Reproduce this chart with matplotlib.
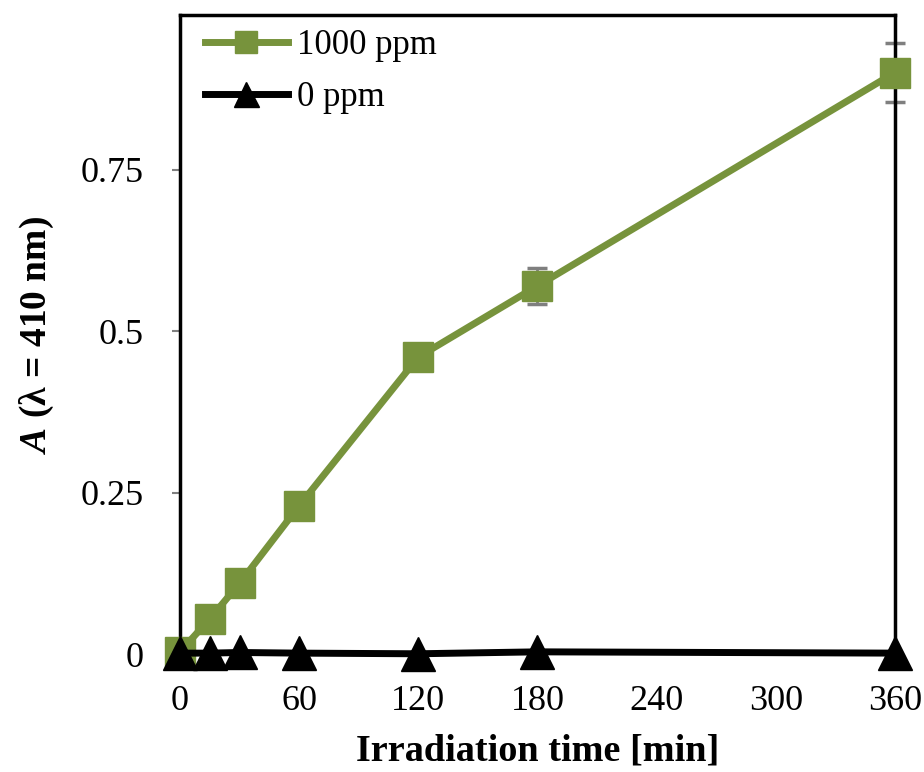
import matplotlib.pyplot as plt

# irradiation times (min) and absorbance at 410 nm
time_min = [0, 15, 30, 60, 120, 180, 360]
abs_1000ppm = [0.004, 0.055, 0.11, 0.23, 0.46, 0.57, 0.90]
err_1000ppm = [0.0, 0.005, 0.008, 0.01, 0.02, 0.028, 0.045]
abs_0ppm = [0.002, 0.002, 0.003, 0.002, 0.001, 0.004, 0.002]

x_ticks = [0, 60, 120, 180, 240, 300, 360]
y_ticks = [0, 0.25, 0.5, 0.75]
y_tick_labels = ['0', '0.25', '0.5', '0.75']

green = '#77933C'
serif = ['Liberation Serif', 'DejaVu Serif']

plt.rcParams['font.family'] = serif
plt.rcParams['mathtext.fontset'] = 'custom'
plt.rcParams['mathtext.it'] = 'Liberation Serif:italic:bold'
plt.rcParams['mathtext.rm'] = 'Liberation Serif:bold'

fig = plt.figure(figsize=(9.24, 7.72), dpi=100)
ax = fig.add_axes([0.1948, 0.1523, 0.7738, 0.8283])

# error bars go under the square markers
ax.errorbar(time_min, abs_1000ppm, yerr=err_1000ppm, fmt='none',
            ecolor='#7f7f7f', elinewidth=2, capsize=7, capthick=2.5,
            zorder=2, clip_on=False)
ax.plot(time_min, abs_1000ppm, color=green, lw=5, marker='s', ms=21,
        mfc=green, mec=green, label='1000 ppm', zorder=3, clip_on=False)
ax.plot(time_min, abs_0ppm, color='black', lw=5, marker='^', ms=24,
        label='0 ppm', zorder=4, clip_on=False)

ax.set_xlim(0, 360)
ax.set_ylim(0, 0.989)
ax.set_xticks(x_ticks)
ax.set_yticks(y_ticks)
ax.set_yticklabels(y_tick_labels)

for s in ['left', 'top', 'right']:
    ax.spines[s].set_linewidth(2.5)
ax.spines['bottom'].set_visible(False)

ax.tick_params(axis='y', direction='out', length=6, width=1.5,
               color='#7f7f7f', pad=20, labelsize=26)
ax.tick_params(axis='x', length=0, pad=22, labelsize=26)

ax.set_xlabel('Irradiation time [min]', fontsize=27.5,
              fontweight='bold', labelpad=11)
ax.set_ylabel(r'$\mathit{A}$ (λ = 410 nm)', fontsize=27,
              fontweight='bold', labelpad=18)

leg = ax.legend(loc='upper left', bbox_to_anchor=(0.015, 1.0),
                frameon=False, markerscale=0.75,
                handlelength=2.4, handletextpad=0.25, labelspacing=0.55,
                borderaxespad=0.0, prop={'size': 25})

fig.savefig('out.png', dpi=100)
